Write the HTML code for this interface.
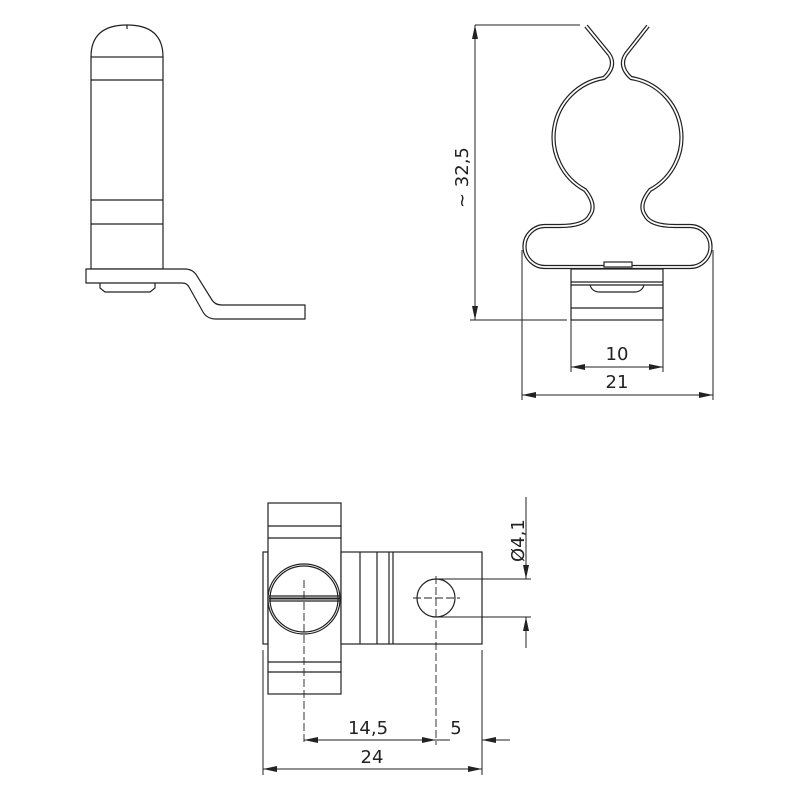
<!DOCTYPE html>
<html><head><meta charset="utf-8"><style>html,body{margin:0;padding:0;background:#fff}svg{display:block}</style></head>
<body>
<svg width="800" height="800" viewBox="0 0 800 800" xmlns="http://www.w3.org/2000/svg" font-family="'DejaVu Sans','Liberation Sans',sans-serif" font-size="18" fill="none" stroke="#222" stroke-width="1">
<defs>
<marker id="a" markerWidth="14" markerHeight="6" refX="14" refY="3" orient="auto" markerUnits="userSpaceOnUse"><path d="M0,0 L14,3 L0,6 Z" fill="#222" stroke="none"/></marker>
<marker id="b" markerWidth="14" markerHeight="6" refX="0" refY="3" orient="auto" markerUnits="userSpaceOnUse"><path d="M14,0 L0,3 L14,6 Z" fill="#222" stroke="none"/></marker>
</defs>
<g stroke-width="1.2">
<path d="M91,57 Q91,25 127,25 Q163,25 163,57"/>
<line x1="127" y1="25" x2="127" y2="29"/>
<rect x="91" y="57" width="72" height="212"/>
<line x1="91" y1="80" x2="163" y2="80"/>
<line x1="91" y1="200" x2="163" y2="200"/>
<line x1="91" y1="224" x2="163" y2="224"/>
<path d="M86,269 L185,269 Q193,269 197,276 L212,300 Q215,305 222,305 L305,305 L305,319 L216,319 Q207,319 203,312 L189,287 Q187,283 182,283 L86,283 Z" fill="#fff"/>
<path d="M100,283 L100,288 L105,292 L150,292 L155,288 L155,283"/>
</g>
<path d="M586,26 L609,54 Q617,66 604,78 A60,60 0 0 0 585,190 Q597,205 590,215 Q585,226 560,226 L545,226 A20.5,20.5 0 0 0 545,267 L690,267 A20.5,20.5 0 0 0 690,226 L675,226 Q650,226 645,215 Q638,205 650,190 A60,60 0 0 0 631,78 Q618,66 626,54 L648,26" stroke="#222" stroke-width="4.2"/>
<path d="M586,26 L609,54 Q617,66 604,78 A60,60 0 0 0 585,190 Q597,205 590,215 Q585,226 560,226 L545,226 A20.5,20.5 0 0 0 545,267 L690,267 A20.5,20.5 0 0 0 690,226 L675,226 Q650,226 645,215 Q638,205 650,190 A60,60 0 0 0 631,78 Q618,66 626,54 L648,26" stroke="#fff" stroke-width="1.8"/>
<g stroke-width="1.2">
<rect x="571" y="269" width="92" height="51" fill="#fff"/>
<rect x="604" y="262" width="28" height="5" fill="#fff"/>
<line x1="571" y1="282" x2="663" y2="282"/>
<line x1="571" y1="285" x2="663" y2="285"/>
<line x1="571" y1="308" x2="663" y2="308"/>
<path d="M590,285 Q592,292 600,292 L634,292 Q642,292 644,285"/>
</g>
<line x1="475" y1="25" x2="580" y2="25"/>
<line x1="470" y1="320" x2="567" y2="320"/>
<line x1="475" y1="25" x2="475" y2="320" marker-start="url(#b)" marker-end="url(#a)"/>
<text x="0" y="0" transform="translate(468,208) rotate(-90)" fill="#222" stroke="none">~ 32,5</text>
<line x1="522" y1="250" x2="522" y2="400"/>
<line x1="713" y1="250" x2="713" y2="400"/>
<line x1="571" y1="320" x2="571" y2="372"/>
<line x1="663" y1="320" x2="663" y2="372"/>
<line x1="571" y1="367" x2="663" y2="367" marker-start="url(#b)" marker-end="url(#a)"/>
<line x1="522" y1="395" x2="713" y2="395" marker-start="url(#b)" marker-end="url(#a)"/>
<text x="617" y="360" text-anchor="middle" fill="#222" stroke="none">10</text>
<text x="617" y="388" text-anchor="middle" fill="#222" stroke="none">21</text>
<g stroke-width="1.2">
<rect x="263" y="552" width="5" height="92"/>
<rect x="268" y="503" width="73" height="191" fill="#fff"/>
<line x1="268" y1="526" x2="341" y2="526"/>
<line x1="268" y1="538" x2="341" y2="538"/>
<line x1="268" y1="662" x2="341" y2="662"/>
<line x1="268" y1="672" x2="341" y2="672"/>
<rect x="341" y="552" width="141" height="92" fill="#fff"/>
<line x1="360" y1="552" x2="360" y2="644"/>
<line x1="377" y1="552" x2="377" y2="644"/>
<line x1="389" y1="552" x2="389" y2="644"/>
<line x1="393" y1="552" x2="393" y2="644"/>
<ellipse cx="304" cy="599" rx="36" ry="35"/>
<ellipse cx="304" cy="599" rx="34" ry="33"/>
<line x1="269" y1="596" x2="340" y2="596"/>
<line x1="269" y1="601" x2="340" y2="601"/>
<line x1="269" y1="598.5" x2="340" y2="598.5" stroke-width="2"/>
<circle cx="436" cy="598" r="19"/>
</g>
<g stroke-dasharray="8,3" stroke-width="0.9">
<line x1="304" y1="580" x2="304" y2="745"/>
<line x1="436" y1="576" x2="436" y2="745"/>
<line x1="413" y1="598" x2="460" y2="598"/>
</g>
<line x1="436" y1="579" x2="531" y2="579"/>
<line x1="436" y1="617" x2="531" y2="617"/>
<line x1="526" y1="497" x2="526" y2="579" marker-end="url(#a)"/>
<line x1="526" y1="648" x2="526" y2="617" marker-end="url(#a)"/>
<text x="0" y="0" transform="translate(524,562) rotate(-90)" fill="#222" stroke="none">Ø4,1</text>
<line x1="263" y1="650" x2="263" y2="775"/>
<line x1="482" y1="650" x2="482" y2="775"/>
<line x1="304" y1="740" x2="436" y2="740" marker-start="url(#b)" marker-end="url(#a)"/>
<line x1="436" y1="740" x2="450" y2="740"/>
<line x1="510" y1="740" x2="482" y2="740" marker-end="url(#a)"/>
<line x1="263" y1="769" x2="482" y2="769" marker-start="url(#b)" marker-end="url(#a)"/>
<text x="368" y="734" text-anchor="middle" fill="#222" stroke="none">14,5</text>
<text x="456" y="734" text-anchor="middle" fill="#222" stroke="none">5</text>
<text x="372" y="763" text-anchor="middle" fill="#222" stroke="none">24</text>
</svg>
</body></html>
